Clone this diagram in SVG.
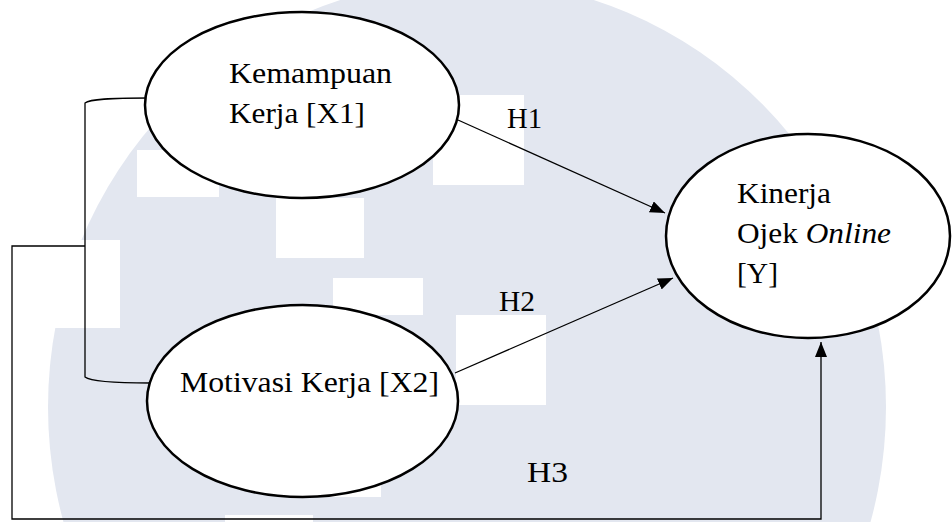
<svg xmlns="http://www.w3.org/2000/svg" width="952" height="522" viewBox="0 0 952 522">
  <style>
    .node { fill: #ffffff; stroke: #000000; stroke-width: 2.5; }
    .conn { fill: none; stroke: #000000; stroke-width: 1.3; }
    .lbl { font-family: "Liberation Serif", "Times New Roman", serif; font-size: 30px; fill: #000000; }
    .wm { fill: #e3e7f0; }
    .wmw { fill: #ffffff; }
  </style>
  <defs>
    <marker id="arrow" markerUnits="userSpaceOnUse" markerWidth="16" markerHeight="13" refX="15" refY="6" orient="auto">
      <path d="M0,0 L15,6 L0,12 z" fill="#000000"/>
    </marker>
  </defs>
  <rect x="0" y="0" width="952" height="522" fill="#ffffff"/>
  <g id="watermark">
    <ellipse class="wm" cx="467" cy="407" rx="419" ry="427"/>
    <rect class="wmw" x="137" y="150" width="82" height="47"/>
    <rect class="wmw" x="276" y="198" width="88" height="60"/>
    <rect class="wmw" x="433" y="95" width="91" height="90"/>
    <rect class="wmw" x="0" y="240" width="120" height="88"/>
    <rect class="wmw" x="333" y="278" width="90" height="37"/>
    <rect class="wmw" x="456" y="315" width="90" height="90"/>
    <rect class="wmw" x="290" y="420" width="91" height="77"/>
    <rect class="wmw" x="225" y="515" width="88" height="7"/>
  </g>
  <g id="connectors">
    <path class="conn" d="M148,98 C110,98 90,99 85,103 L85,377 C90,381 110,383 150,383"/>
    <polyline class="conn" points="85,246 12,246 12,519 821,519 821,342" marker-end="url(#arrow)"/>
    <line class="conn" x1="458" y1="120" x2="665" y2="213" marker-end="url(#arrow)"/>
    <line class="conn" x1="455" y1="373" x2="673" y2="278" marker-end="url(#arrow)"/>
    <text class="lbl" x="507" y="128" textLength="35" lengthAdjust="spacingAndGlyphs">H1</text>
    <text class="lbl" x="499" y="311" textLength="36" lengthAdjust="spacingAndGlyphs">H2</text>
    <text class="lbl" x="527" y="482" textLength="41" lengthAdjust="spacingAndGlyphs">H3</text>
  </g>
  <g id="x1">
    <ellipse class="node" cx="302" cy="105" rx="157" ry="93"/>
    <text class="lbl" x="229" y="83" textLength="163" lengthAdjust="spacingAndGlyphs">Kemampuan</text>
    <text class="lbl" x="229" y="123" textLength="136" lengthAdjust="spacingAndGlyphs">Kerja [X1]</text>
  </g>
  <g id="x2">
    <ellipse class="node" cx="302.5" cy="401" rx="155.5" ry="96"/>
    <text class="lbl" x="180" y="392" textLength="259" lengthAdjust="spacingAndGlyphs">Motivasi Kerja [X2]</text>
  </g>
  <g id="y">
    <ellipse class="node" cx="808" cy="236" rx="142" ry="102"/>
    <text class="lbl" x="737" y="203" textLength="94" lengthAdjust="spacingAndGlyphs">Kinerja</text>
    <text class="lbl" x="737" y="243" textLength="154" lengthAdjust="spacingAndGlyphs">Ojek <tspan font-style="italic">Online</tspan></text>
    <text class="lbl" x="737" y="283" textLength="41" lengthAdjust="spacingAndGlyphs">[Y]</text>
  </g>
</svg>
